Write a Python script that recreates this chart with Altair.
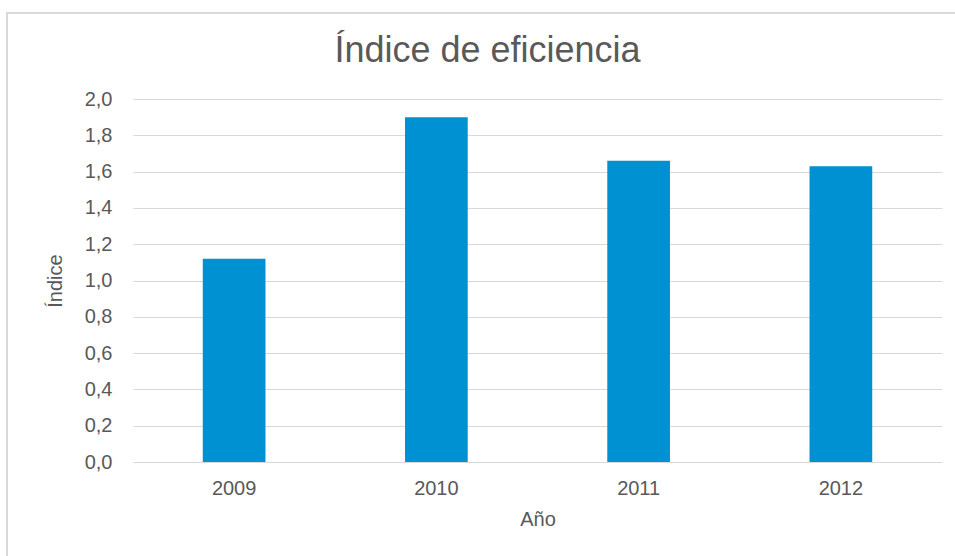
import altair as alt
import pandas as pd

years = ["2009", "2010", "2011", "2012"]
values = [1.12, 1.90, 1.66, 1.63]

df = pd.DataFrame({"Año": years, "Índice": values})

TEXT = "#595959"
GRID = "#D9D9D9"
FONT = "Liberation Sans"

bars = alt.Chart(df).mark_bar(color="#0091D2").encode(
    x=alt.X(
        "Año:N",
        sort=years,
        scale=alt.Scale(paddingInner=0.69, paddingOuter=0.345),
        axis=alt.Axis(
            title="Año",
            labelAngle=0,
            labelPadding=16,
            titlePadding=11,
            ticks=False,
            domain=False,
            labelFontSize=20,
            titleFontSize=20,
            labelColor=TEXT,
            titleColor=TEXT,
            labelFont=FONT,
            titleFont=FONT,
            titleFontWeight="normal",
        ),
    ),
    y=alt.Y(
        "Índice:Q",
        scale=alt.Scale(domain=[0, 2], nice=False),
        axis=alt.Axis(
            title="Índice",
            values=[0, 0.2, 0.4, 0.6, 0.8, 1.0, 1.2, 1.4, 1.6, 1.8, 2.0],
            labelExpr="replace(format(datum.value, '.1f'), '.', ',')",
            ticks=False,
            domain=False,
            gridColor=GRID,
            gridWidth=1.2,
            labelPadding=21,
            titlePadding=19,
            labelFontSize=20,
            titleFontSize=20,
            labelColor=TEXT,
            titleColor=TEXT,
            labelFont=FONT,
            titleFont=FONT,
            titleFontWeight="normal",
        ),
    ),
)

border = alt.Chart(pd.DataFrame({"k": [0]})).mark_rect(
    fill="transparent", stroke=GRID, strokeWidth=2
).encode(
    x=alt.value(-126), x2=alt.value(900), y=alt.value(-86), y2=alt.value(520)
)

chart = alt.layer(border, bars).properties(
    width=809,
    height=363,
    background="white",
    autosize=alt.AutoSizeParams(type="none"),
    padding={"left": 133, "top": 99, "right": 13, "bottom": 94},
    title=alt.TitleParams(
        "Índice de eficiencia",
        fontSize=36,
        font=FONT,
        fontWeight="normal",
        color=TEXT,
        anchor="middle",
        dx=-50,
        offset=-58,
    ),
).configure_view(stroke=None)

chart.save("out.html", embed_options={"renderer": "svg", "actions": False})
